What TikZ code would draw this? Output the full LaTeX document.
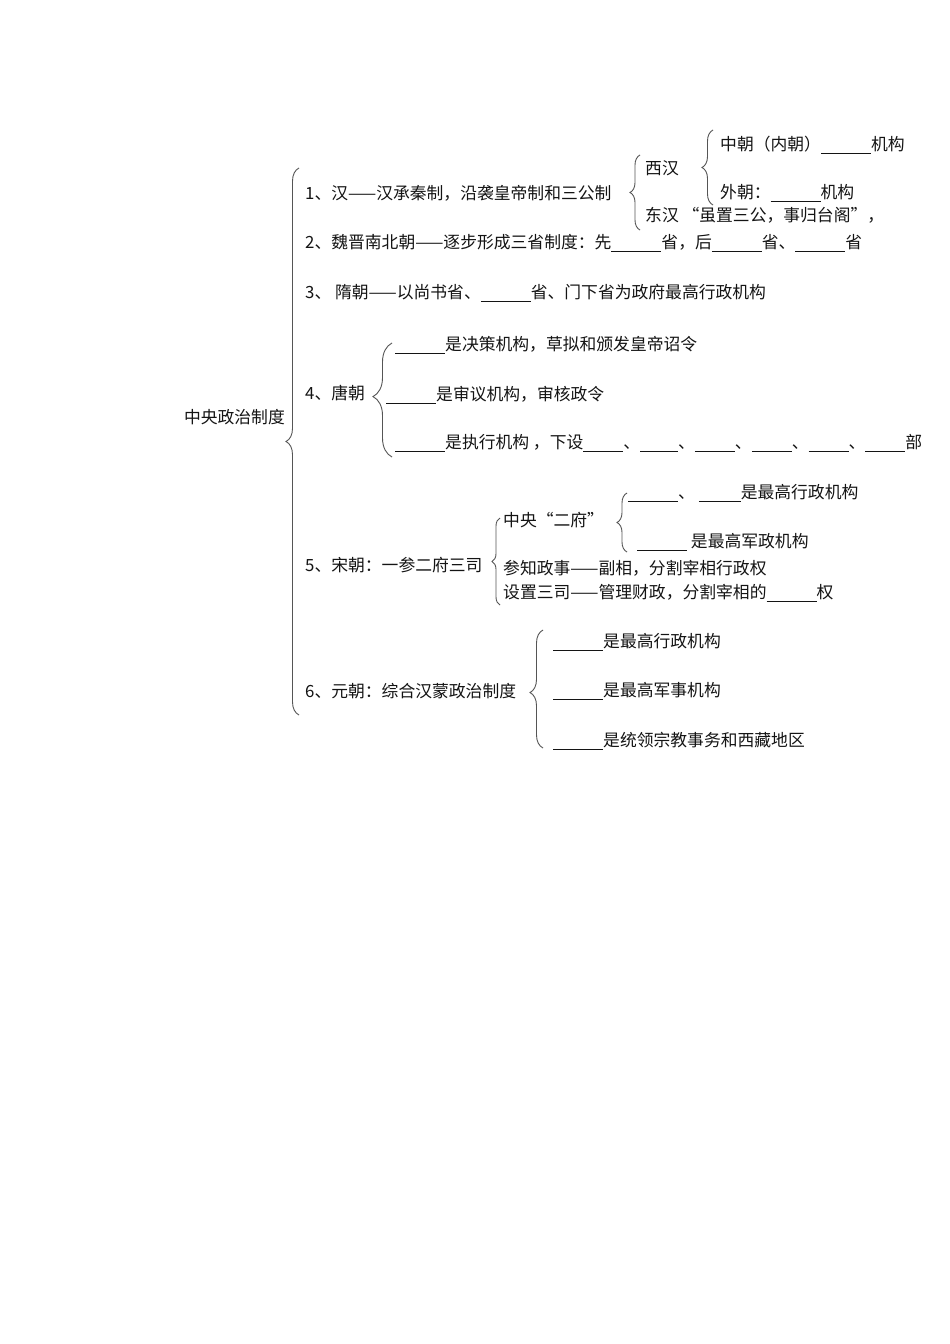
\documentclass[tikz,border=0pt]{standalone}
\usepackage{fontspec}
\setmainfont{Noto Sans CJK SC}
\usepackage{tikz}
\usepackage{xcolor}
\usetikzlibrary{decorations.pathreplacing}
\definecolor{bracegray}{RGB}{85, 85, 85}
\definecolor{textblack}{RGB}{20, 20, 20}
\newcommand\fillblank[1][50pt]{\rule[-2.5pt]{#1}{0.7pt}}
\tikzset{
    itemtext/.style={anchor=west, inner sep=0pt, text=textblack, font=\fontsize{16.8}{18}\selectfont},
    rootnode/.style={itemtext, anchor=east},
    bracestyle/.style={draw=bracegray, line width=0.9pt, decorate, decoration={brace, amplitude=#1}},
    bracestyle/.default=10pt
}

\begin{document}
\begin{tikzpicture}[x=1pt, y=-1pt]
    \useasboundingbox[fill=white] (0,0) rectangle (950,1344);

    \node[rootnode] (root) at (285,417) {中央政治制度};
    \draw[bracestyle=13pt] (299,715) -- (299,168);

    % 1 han
    \node[itemtext] (han) at (305,193) {1、汉——汉承秦制，沿袭皇帝制和三公制};
    \draw[bracestyle=10pt] (640,230) -- (640,155);
    \node[itemtext] (xihan) at (645,168) {西汉};
    \node[itemtext] (donghan) at (645,215) {东汉 “虽置三公，事归台阁”，};
    \draw[bracestyle=11pt] (713,205) -- (713,130);
    \node[itemtext] (zhongchao) at (720,145) {中朝（内朝）\fillblank 机构};
    \node[itemtext] (waichao) at (720,193) {外朝：\fillblank 机构};

    % 2, 3
    \node[itemtext] (weijin) at (305,243) {2、魏晋南北朝——逐步形成三省制度：先\fillblank 省，后\fillblank 省、\fillblank 省};
    \node[itemtext] (sui) at (305,293) {3、 隋朝——以尚书省、\fillblank 省、门下省为政府最高行政机构};

    % 4 tang
    \node[itemtext] (tang) at (305,393) {4、唐朝};
    \draw[bracestyle=19pt, decoration={aspect=0.53}] (392,457) -- (392,343);
    \node[itemtext] (tang1) at (395,345) {\fillblank 是决策机构，草拟和颁发皇帝诏令};
    \node[itemtext] (tang2) at (386,395) {\fillblank 是审议机构，审核政令};
    \node[itemtext] (tang3) at (395,443) {\fillblank 是执行机构 ，下设\fillblank[40pt]、\fillblank[38pt]、\fillblank[40pt]、\fillblank[40pt]、\fillblank[40pt]、\fillblank[40pt]部};

    % 5 song
    \node[itemtext] (song) at (305,565) {5、宋朝：一参二府三司};
    \draw[bracestyle=8pt] (500,605) -- (500,518);
    \node[itemtext] (erfu) at (503,520) {中央“二府”};
    \draw[bracestyle=10pt] (627,552) -- (627,493);
    \node[itemtext] (song1) at (628,493) {\fillblank 、 \fillblank[42pt]是最高行政机构};
    \node[itemtext] (song2) at (637,542) {\fillblank\ 是最高军政机构};
    \node[itemtext] (canzhi) at (503,568) {参知政事——副相，分割宰相行政权};
    \node[itemtext] (sansi) at (503,593) {设置三司——管理财政，分割宰相的\fillblank 权};

    % 6 yuan
    \node[itemtext] (yuan) at (305,691) {6、元朝：综合汉蒙政治制度};
    \draw[bracestyle=13pt, decoration={aspect=0.47}] (543,748) -- (543,630);
    \node[itemtext] (yuan1) at (553,642) {\fillblank 是最高行政机构};
    \node[itemtext] (yuan2) at (553,691) {\fillblank 是最高军事机构};
    \node[itemtext] (yuan3) at (553,741) {\fillblank 是统领宗教事务和西藏地区};
\end{tikzpicture}
\end{document}
